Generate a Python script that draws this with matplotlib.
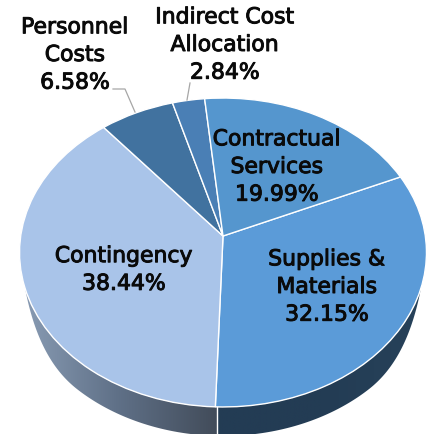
#!/usr/bin/env python3
"""Budget share pie drawn with a tilted 3D look."""

import matplotlib

matplotlib.use("Agg")
import matplotlib.pyplot as plt
import matplotlib.patheffects as path_effects
import numpy as np
from matplotlib.colors import LinearSegmentedColormap
from matplotlib.patches import Polygon
from matplotlib.transforms import Transform

categories = ["Supplies &\nMaterials", "Contingency", "Personnel\nCosts", "Indirect Cost\nAllocation", "Contractual\nServices"]
shares = [32.15, 38.44, 6.58, 2.84, 19.99]
top_colors = ["#5b9bd8", "#a9c4e9", "#41729f", "#4a7fb5", "#5596ce"]
label_xy = [(327, 288), (124, 271), (75, 56), (225, 46), (277, 168)]

PIVOT = (223.0, 237.0)
PERSPECTIVE = -0.1068
X_SCALE = 202.3
Y_SCALE = 152.7
DEPTH = 29.0


class TiltTransform(Transform):
    """Projects the unit pie onto the tilted disc, in image pixels."""

    input_dims = 2
    output_dims = 2

    def transform_non_affine(self, values):
        values = np.asarray(values, dtype=float)
        near = -values[:, 1]
        scale = 1.0 + PERSPECTIVE * near
        return np.column_stack([PIVOT[0] + X_SCALE * values[:, 0] / scale, PIVOT[1] + Y_SCALE * near / scale])


def _wall(axis, tilt, start_deg, stop_deg, cmap, extent):
    angles = np.radians(np.linspace(start_deg, stop_deg, 200))
    rim = tilt.transform(np.column_stack([np.cos(angles), -np.sin(angles)]))
    # the wall pinches to nothing where it leaves the rim
    taper = np.sin(np.pi / 2 * np.clip((np.sin(angles) - 0.33) / 0.42, 0, 1))
    lower = (rim + np.column_stack([np.zeros_like(taper), DEPTH * taper]))[::-1]
    clip = Polygon(np.vstack([rim, lower]), closed=True, transform=axis.transData, facecolor="none", edgecolor="none")
    axis.add_patch(clip)
    image = axis.imshow(np.linspace(0, 1, 256).reshape(1, -1), cmap=cmap, extent=extent, aspect="auto", zorder=1)
    image.set_clip_path(clip)


def main() -> int:
    fig = plt.figure(figsize=(4.38, 4.35), dpi=100)
    axis = fig.add_axes([0, 0, 1, 1])
    tilt = TiltTransform()

    wedges, _ = axis.pie(shares, colors=top_colors, startangle=23.8, counterclock=False, radius=1.0,
                         wedgeprops={"edgecolor": "white", "linewidth": 1.0})
    for wedge in wedges:
        wedge.set_transform(tilt + axis.transData)
        wedge.set_zorder(2)

    left_cmap = LinearSegmentedColormap.from_list("left", ["#8a9db5", "#5f7087", "#424c5a"])
    right_cmap = LinearSegmentedColormap.from_list("right", ["#233c54", "#233c54", "#27425a"])
    _wall(axis, tilt, 180 - 19, 91.5, left_cmap, (20, 217, 440, 250))
    _wall(axis, tilt, 91.5, 19, right_cmap, (217, 426, 440, 250))
    axis.plot([217, 217], [408, 435], color="white", linewidth=1.0, zorder=3)

    axis.plot([113, 125, 135], [90, 90, 113], color="#a6a6a6", linewidth=0.9, zorder=3)
    axis.plot([190, 187], [84, 101], color="#a6a6a6", linewidth=0.9, zorder=3)

    for name, share, (x, y) in zip(categories, shares, label_xy):
        text = axis.text(x, y, f"{name}\n{share:.2f}%", ha="center", va="center", fontsize=15.8, family="DejaVu Sans",
                         color="#0a0a0a", linespacing=1.48, zorder=4)
        text.set_path_effects([path_effects.withStroke(linewidth=0.7, foreground="#0a0a0a")])

    axis.set_xlim(0, 438)
    axis.set_ylim(435, 0)
    axis.set_aspect("auto")
    axis.axis("off")
    fig.savefig("out.png", dpi=100, facecolor="white")
    plt.close(fig)
    return 0


if __name__ == "__main__":
    raise SystemExit(main())
